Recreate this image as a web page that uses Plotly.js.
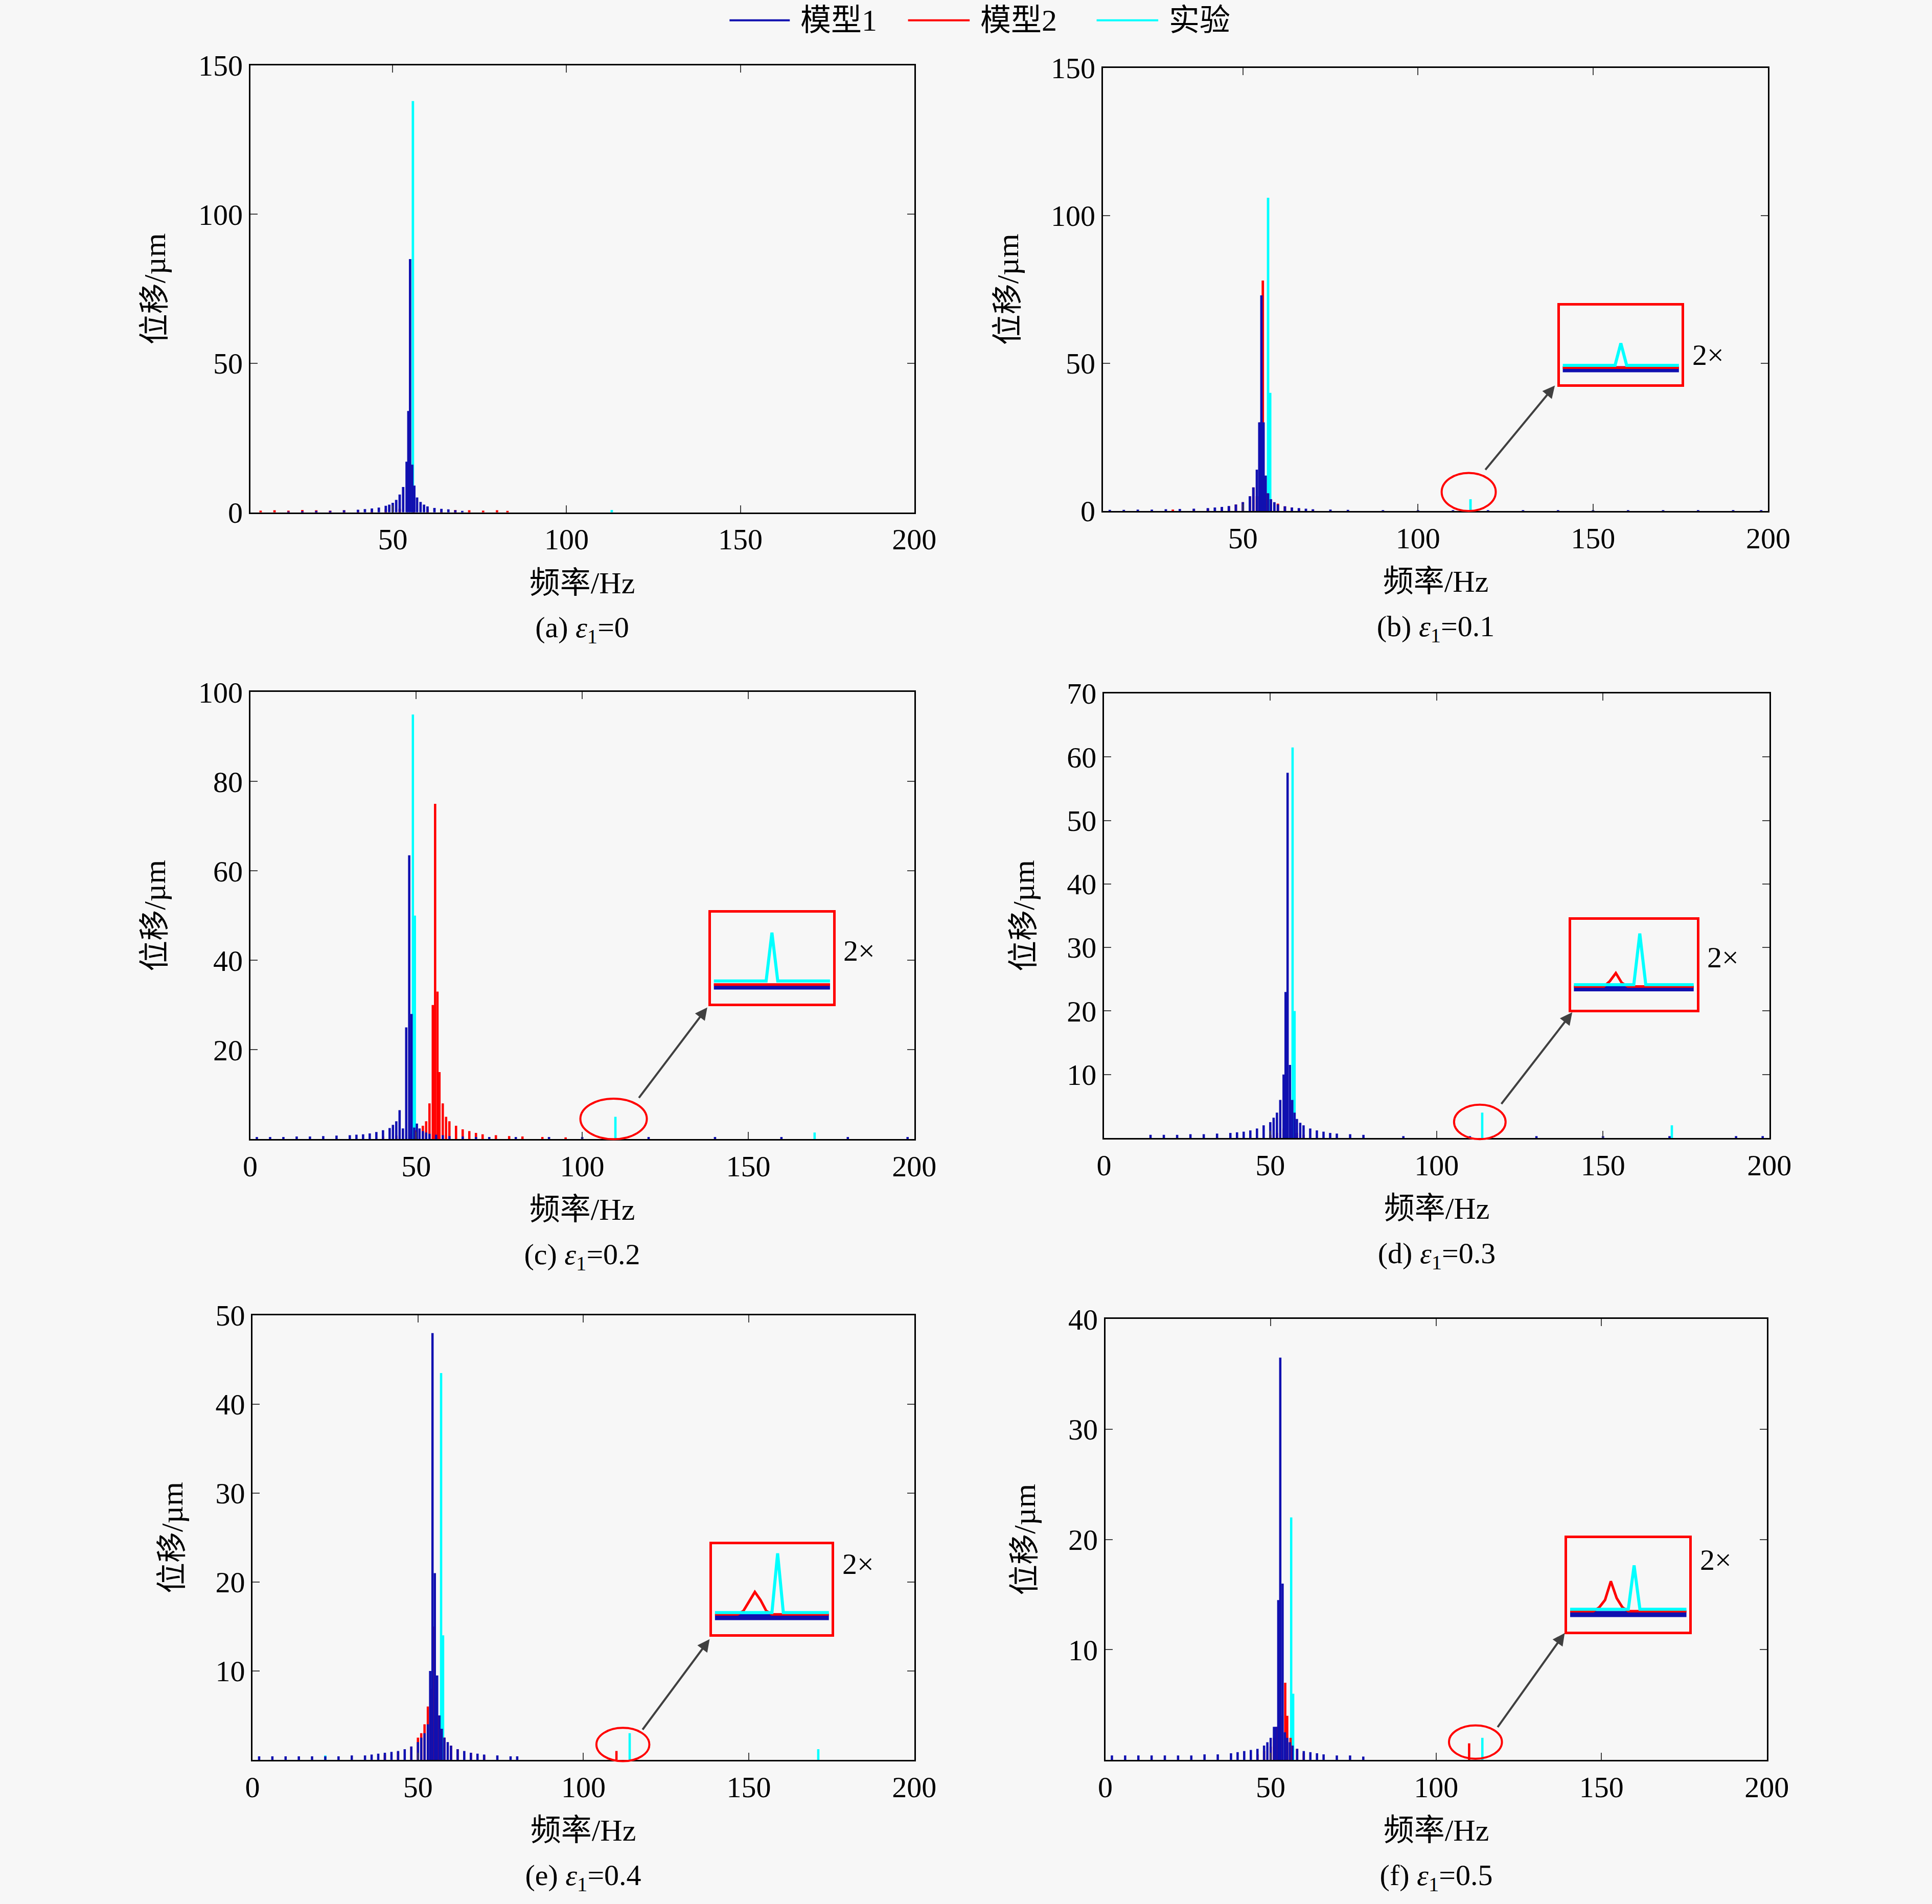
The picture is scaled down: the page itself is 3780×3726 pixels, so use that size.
<!DOCTYPE html>
<html>
<head>
<meta charset="utf-8">
<script src="https://cdn.plot.ly/plotly-3.0.1.min.js"></script>
<style>body{margin:0;background:#f7f7f7}</style>
</head>
<body>
<div id="chart" style="width:3780px;height:3726px"></div>
<script>
// panel (a)
const aBlueF = [20,24,28,32,36,40,42,44,46,48,49,50,51,52,53,54,54.5,55,55.6,56.2,57,58,59,60,62,64,66,68,70];
const aBlueA = [0.3,0.4,0.5,0.5,0.7,0.9,1.1,1.3,1.6,2.2,2.6,3.2,4.2,6,8.5,17,34,85,16,9,5,3.5,2.6,2,1.5,1.2,1,0.7,0.5];
const aRedF = [12,16,20,24,28,32,36,40,44,48,52,56,60,64,68,72,76,80,83];
const aRedA = [0.6,0.7,0.6,0.8,0.7,0.6,0.7,0.8,0.9,1.0,1.2,1.5,1.1,0.9,0.8,0.7,0.6,0.7,0.5];
const aCyanF = [55.8,113];
const aCyanA = [138,0.8];
// panel (b)
const bBlueF = [12,16,20,24,28,32,36,40,42,44,46,48,50,52,53,54,54.7,55.3,55.9,56.5,57.2,58,59,60,62,64,66,68,70,75,80,90,100,110,120,130,140,150,160,170,180,190,198];
const bBlueA = [0.4,0.4,0.5,0.5,0.6,0.7,0.8,1,1.2,1.4,1.7,2.2,3,5,8,14,30,73,30,12,6,4,3,2.2,1.6,1.2,1,0.8,0.6,0.5,0.4,0.3,0.3,0.3,0.3,0.3,0.3,0.3,0.3,0.3,0.3,0.3,0.3];
const bRedF = [30,36,40,44,46,48,50,52,53,54,55,55.7,56.3,57,58,60,62,64,66,70];
const bRedA = [0.5,0.6,0.8,1.2,1.6,2.2,3,5,8,5,30,78,10,6,4,2.5,1.6,1.2,0.8,0.5];
const bCyanF = [57.2,57.8,115];
const bCyanA = [106,40,4];
// panel (c)
const cBlueF = [2,6,10,14,18,22,26,30,32,34,36,38,40,42,43,44,45,46,47,47.9,48.6,49.4,50.2,51,52,53,54,56,58,60,64,68,72,80,90,100,120,140,160,180,198];
const cBlueA = [0.5,0.5,0.5,0.6,0.6,0.7,0.8,0.9,1,1.1,1.3,1.6,2,2.5,3.2,4,6.5,2.4,25,63.5,28,2.6,3.5,2.4,1.8,1.5,1.2,1,0.9,0.7,0.6,0.5,0.5,0.5,0.5,0.5,0.5,0.5,0.5,0.5,0.5];
const cRedF = [40,44,48,50,52,53,54,55,55.7,56.4,57,58,59,60,62,64,66,68,70,74,78,82,88,95];
const cRedA = [0.6,0.8,1.2,2,3,4,8,30,75,33,15,8,5,4,3,2.2,1.8,1.4,1.1,0.9,0.7,0.6,0.5,0.4];
const cCyanF = [49,49.6,110,170];
const cCyanA = [95,50,5,1.5];
// panel (d)
const dBlueF = [14,18,22,26,30,34,38,40,42,44,46,48,50,51,52,53,54,54.6,55.2,55.9,56.6,57.3,58,59,60,62,64,66,68,70,74,78,90,110,130,150,170,190,198];
const dBlueA = [0.5,0.5,0.5,0.6,0.6,0.7,0.8,0.9,1,1.2,1.5,2,2.5,3.2,4,6,10,23,57.5,11.5,6,4,3,2.4,2,1.5,1.2,1,0.8,0.7,0.6,0.5,0.3,0.3,0.3,0.3,0.3,0.3,0.3];
const dRedF = [50,52,54,55,56,58,60];
const dRedA = [0.5,0.8,1.5,2.5,1.5,0.8,0.5];
const dCyanF = [56.7,57.3,113.7,170.7];
const dCyanA = [61.5,20,4,2];
// panel (e)
const eBlueF = [2,6,10,14,18,22,26,30,34,36,38,40,42,44,46,48,50,51,52,53,53.7,54.4,55.1,55.8,56.5,57.2,58,59,60,62,64,66,68,70,74,78,80];
const eBlueA = [0.4,0.4,0.4,0.4,0.4,0.4,0.4,0.5,0.5,0.6,0.7,0.8,0.9,1,1.2,1.5,2,2.5,3,4,10,48,21,9.5,5,3.5,2.5,2,1.6,1.2,1,0.8,0.7,0.6,0.5,0.4,0.4];
const eRedF = [40,44,48,50,51,52,53,54,54.7,55.4,56,57,58,60,62,66,70,110];
const eRedA = [0.6,0.9,1.5,2.5,3,4,6,8,15,7,5,3.5,2.5,1.6,1.2,0.8,0.5,1];
const eCyanF = [57,57.6,114,171,22];
const eCyanA = [43.5,14,3,1.2,0.5];
// panel (f)
const fBlueF = [2,6,10,14,18,22,26,30,34,38,40,42,44,46,48,49,50,51,51.6,52.3,52.9,53.6,54.3,55,55.8,56.6,58,60,62,64,66,70,74,78];
const fBlueA = [0.4,0.4,0.4,0.4,0.4,0.4,0.4,0.5,0.5,0.6,0.7,0.8,0.9,1,1.3,1.6,2,3,3,14.5,36.5,16,2.5,2,1.6,1.3,1,0.8,0.7,0.6,0.5,0.4,0.4,0.3];
const fRedF = [46,48,50,51,52,53,54.4,55,56,58,60,110];
const fRedA = [0.5,0.8,1.2,2,3,4,7,4,2,1,0.6,1.5];
const fCyanF = [56.2,56.8,114];
const fCyanA = [22,6,2];

// 2x zoom insets (relative units)
const insetX = [0,1,2,3,4,5,6,7,8,9,10,11,12,13,14,15,16,17,18,19,20];
const insBBlue = [1.9,1.9,1.9,1.9,1.9,1.9,1.9,1.9,1.9,1.9,1.9,1.9,1.9,1.9,1.9,1.9,1.9,1.9,1.9,1.9,1.9];
const insBRed  = [2.1,2.1,2.1,2.1,2.1,2.1,2.1,2.1,2.1,2.1,2.1,2.1,2.1,2.1,2.1,2.1,2.1,2.1,2.1,2.1,2.1];
const insBCyan = [2.4,2.4,2.4,2.4,2.4,2.4,2.4,2.4,2.4,2.4,5.2,2.4,2.4,2.4,2.4,2.4,2.4,2.4,2.4,2.4,2.4];
const insCBlue = [1.9,1.9,1.9,1.9,1.9,1.9,1.9,1.9,1.9,1.9,1.9,1.9,1.9,1.9,1.9,1.9,1.9,1.9,1.9,1.9,1.9];
const insCRed  = [2.1,2.1,2.1,2.1,2.1,2.1,2.1,2.1,2.1,2.1,2.1,2.1,2.1,2.1,2.1,2.1,2.1,2.1,2.1,2.1,2.1];
const insCCyan = [2.5,2.5,2.5,2.5,2.5,2.5,2.5,2.5,2.5,2.5,7.8,2.5,2.5,2.5,2.5,2.5,2.5,2.5,2.5,2.5,2.5];
const insDBlue = [2.4,2.4,2.4,2.4,2.4,2.4,2.4,2.4,2.4,2.4,2.4,2.4,2.4,2.4,2.4,2.4,2.4,2.4,2.4,2.4,2.4];
const insDRed  = [2.6,2.6,2.6,2.6,2.6,2.6,3.2,4.1,3.0,2.6,2.6,2.6,2.6,2.6,2.6,2.6,2.6,2.6,2.6,2.6,2.6];
const insDCyan = [2.8,2.8,2.8,2.8,2.8,2.8,2.8,2.8,2.8,2.8,2.8,8.5,2.8,2.8,2.8,2.8,2.8,2.8,2.8,2.8,2.8];
const insEBlue = [1.9,1.9,1.9,1.9,1.9,1.9,1.9,1.9,1.9,1.9,1.9,1.9,1.9,1.9,1.9,1.9,1.9,1.9,1.9,1.9,1.9];
const insERed  = [2.2,2.2,2.2,2.2,2.2,2.6,3.6,4.7,3.8,2.6,2.2,2.2,2.2,2.2,2.2,2.2,2.2,2.2,2.2,2.2,2.2];
const insECyan = [2.4,2.4,2.4,2.4,2.4,2.4,2.4,2.4,2.4,2.4,2.4,9.0,2.4,2.4,2.4,2.4,2.4,2.4,2.4,2.4,2.4];
const insFBlue = [1.9,1.9,1.9,1.9,1.9,1.9,1.9,1.9,1.9,1.9,1.9,1.9,1.9,1.9,1.9,1.9,1.9,1.9,1.9,1.9,1.9];
const insFRed  = [2.2,2.2,2.2,2.2,2.2,2.6,3.4,5.4,3.6,2.6,2.2,2.2,2.2,2.2,2.2,2.2,2.2,2.2,2.2,2.2,2.2];
const insFCyan = [2.4,2.4,2.4,2.4,2.4,2.4,2.4,2.4,2.4,2.4,2.4,7.1,2.4,2.4,2.4,2.4,2.4,2.4,2.4,2.4,2.4];

const seriesNames = ["模型1", "模型2", "实验"];

const BLUE = "#1010b0", RED = "#ff0000", CYAN = "#00ffff";
const SERIF = "'Liberation Serif', 'Noto Sans CJK SC', serif";

const panels = [
  {blue:[aBlueF,aBlueA], red:[aRedF,aRedA], cyan:[aCyanF,aCyanA], x:[0.1295,0.4732], y:[0.7309,0.9657], xr:[9,200], yr:[0,150], yt:[0,50,100,150], cap:"(a) ", eps:"0"},
  {blue:[bBlueF,bBlueA], red:[bRedF,bRedA], cyan:[bCyanF,bCyanA], x:[0.5708,0.9152], y:[0.7316,0.9644], xr:[10,200], yr:[0,150], yt:[0,50,100,150], cap:"(b) ", eps:"0.1"},
  {blue:[cBlueF,cBlueA], red:[cRedF,cRedA], cyan:[cCyanF,cCyanA], x:[0.1295,0.4732], y:[0.4017,0.6365], xr:[0,200], yr:[0,100], yt:[20,40,60,80,100], cap:"(c) ", eps:"0.2"},
  {blue:[dBlueF,dBlueA], red:[dRedF,dRedA], cyan:[dCyanF,dCyanA], x:[0.5714,0.9158], y:[0.4023,0.6358], xr:[0,200], yr:[0,70], yt:[10,20,30,40,50,60,70], cap:"(d) ", eps:"0.3"},
  {blue:[eBlueF,eBlueA], red:[eRedF,eRedA], cyan:[eCyanF,eCyanA], x:[0.1307,0.4732], y:[0.0757,0.3092], xr:[0,200], yr:[0,50], yt:[10,20,30,40,50], cap:"(e) ", eps:"0.4"},
  {blue:[fBlueF,fBlueA], red:[fRedF,fRedA], cyan:[fCyanF,fCyanA], x:[0.5721,0.9145], y:[0.0757,0.3072], xr:[0,200], yr:[0,40], yt:[10,20,30,40], cap:"(f) ", eps:"0.5"}
];

const insets = [
  {blue:insBBlue, red:insBRed, cyan:insBCyan, x:[0.8074,0.8705], y:[0.7982,0.8396], ell:[0.7462,0.7316,0.7742,0.7516], arr:[0.7685,0.7529,0.8048,0.7975]},
  {blue:insCBlue, red:insCRed, cyan:insCCyan, x:[0.368,0.4311], y:[0.4728,0.5207], ell:[0.3004,0.4017,0.3348,0.423], arr:[0.3304,0.423,0.3661,0.4709]},
  {blue:insDBlue, red:insDRed, cyan:insDCyan, x:[0.8131,0.8782], y:[0.4696,0.5168], ell:[0.7526,0.4017,0.7793,0.4198], arr:[0.7768,0.4198,0.8138,0.4683]},
  {blue:insEBlue, red:insERed, cyan:insECyan, x:[0.3686,0.4305], y:[0.1417,0.1889], ell:[0.3087,0.075,0.3361,0.0925], arr:[0.3323,0.0912,0.3673,0.1391]},
  {blue:insFBlue, red:insFRed, cyan:insFCyan, x:[0.8112,0.8744], y:[0.143,0.1921], ell:[0.75,0.0763,0.7774,0.0938], arr:[0.7749,0.0925,0.8099,0.1423]}
];

const traces = [];
const layout = {
  width: 3780, height: 3726,
  paper_bgcolor: "#f7f7f7", plot_bgcolor: "#f7f7f7",
  margin: {l:0, r:0, t:0, b:0},
  font: {family: SERIF, size: 58, color: "#000"},
  barmode: "overlay",
  showlegend: false,
  shapes: [], annotations: []
};

panels.forEach((p, i) => {
  const n = i + 1, xa = "x" + n, ya = "y" + n;
  [["cyan", CYAN], ["red", RED], ["blue", BLUE]].forEach(([k, c]) => {
    traces.push({type: "bar", x: p[k][0], y: p[k][1], width: 0.7, xaxis: xa, yaxis: ya,
      marker: {color: c, line: {width: 0}}, hoverinfo: "skip"});
  });
  layout["xaxis" + n] = {
    domain: p.x, anchor: ya, range: p.xr, tickvals: [0,50,100,150,200].filter(v => v >= p.xr[0]),
    ticks: "inside", ticklen: 14, tickwidth: 2, mirror: "ticks", showline: true, linewidth: 3,
    linecolor: "#000", showgrid: false, zeroline: false, tickfont: {size: 58}
  };
  layout["yaxis" + n] = {
    domain: p.y, anchor: xa, range: p.yr, tickvals: p.yt,
    ticks: "inside", ticklen: 14, tickwidth: 2, mirror: "ticks", showline: true, linewidth: 3,
    linecolor: "#000", showgrid: false, zeroline: false, tickfont: {size: 58},
    title: {text: "位移/µm", font: {size: 60}, standoff: 45}
  };
  const cx = (p.x[0] + p.x[1]) / 2;
  layout.annotations.push({xref: "paper", yref: "paper", x: cx, y: p.y[0] - 0.037, text: "频率/Hz",
    showarrow: false, font: {size: 60}, xanchor: "center", yanchor: "middle", width: 600, align: "center"});
  layout.annotations.push({xref: "paper", yref: "paper", x: cx, y: p.y[0] - 0.0615,
    text: p.cap + "<i>ε</i><sub>1</sub>=" + p.eps, showarrow: false, font: {size: 58},
    xanchor: "center", yanchor: "middle", width: 600, align: "center"});
});

insets.forEach((s, j) => {
  const n = 7 + j, xa = "x" + n, ya = "y" + n;
  traces.push({type: "scatter", mode: "lines", x: insetX, y: s.blue, xaxis: xa, yaxis: ya,
    line: {color: BLUE, width: 12}, hoverinfo: "skip"});
  traces.push({type: "scatter", mode: "lines", x: insetX, y: s.red, xaxis: xa, yaxis: ya,
    line: {color: RED, width: 5}, hoverinfo: "skip"});
  traces.push({type: "scatter", mode: "lines", x: insetX, y: s.cyan, xaxis: xa, yaxis: ya,
    line: {color: CYAN, width: 6}, hoverinfo: "skip"});
  const common = {showline: true, mirror: true, linecolor: RED, linewidth: 5, ticks: "",
    showticklabels: false, showgrid: false, zeroline: false, fixedrange: true};
  layout["xaxis" + n] = Object.assign({domain: s.x, anchor: ya, range: [-0.5, 20.5]}, common);
  layout["yaxis" + n] = Object.assign({domain: s.y, anchor: xa, range: [0, 10]}, common);
  layout.annotations.push({xref: "paper", yref: "paper", x: s.x[1] + 0.005, y: (s.y[0] + s.y[1]) / 2 + 0.004,
    xanchor: "left", text: "2×", showarrow: false, font: {size: 58}});
  layout.annotations.push({xref: "paper", yref: "paper", axref: "paper", ayref: "paper",
    x: s.arr[2], y: s.arr[3], ax: s.arr[0], ay: s.arr[1], text: "", showarrow: true,
    arrowhead: 2, arrowsize: 1.2, arrowwidth: 4, arrowcolor: "#404040"});
  layout.shapes.push({type: "circle", xref: "paper", yref: "paper",
    x0: s.ell[0], y0: s.ell[1], x1: s.ell[2], y1: s.ell[3], line: {color: RED, width: 4}});
});

// legend drawn by hand at top centre
const legendLineX = [[0.3776,0.4088], [0.4700,0.5019], [0.5676,0.5995]];
[BLUE, RED, CYAN].forEach((c, k) => {
  layout.shapes.push({type: "line", xref: "paper", yref: "paper", x0: legendLineX[k][0], x1: legendLineX[k][1],
    y0: 0.9893, y1: 0.9893, line: {color: c, width: 4}});
  layout.annotations.push({xref: "paper", yref: "paper", x: legendLineX[k][1] + 0.005, y: 0.9893,
    xanchor: "left", yanchor: "middle", text: seriesNames[k], showarrow: false, font: {size: 60}});
});

Plotly.newPlot("chart", traces, layout, {staticPlot: true});
</script>
</body>
</html>
